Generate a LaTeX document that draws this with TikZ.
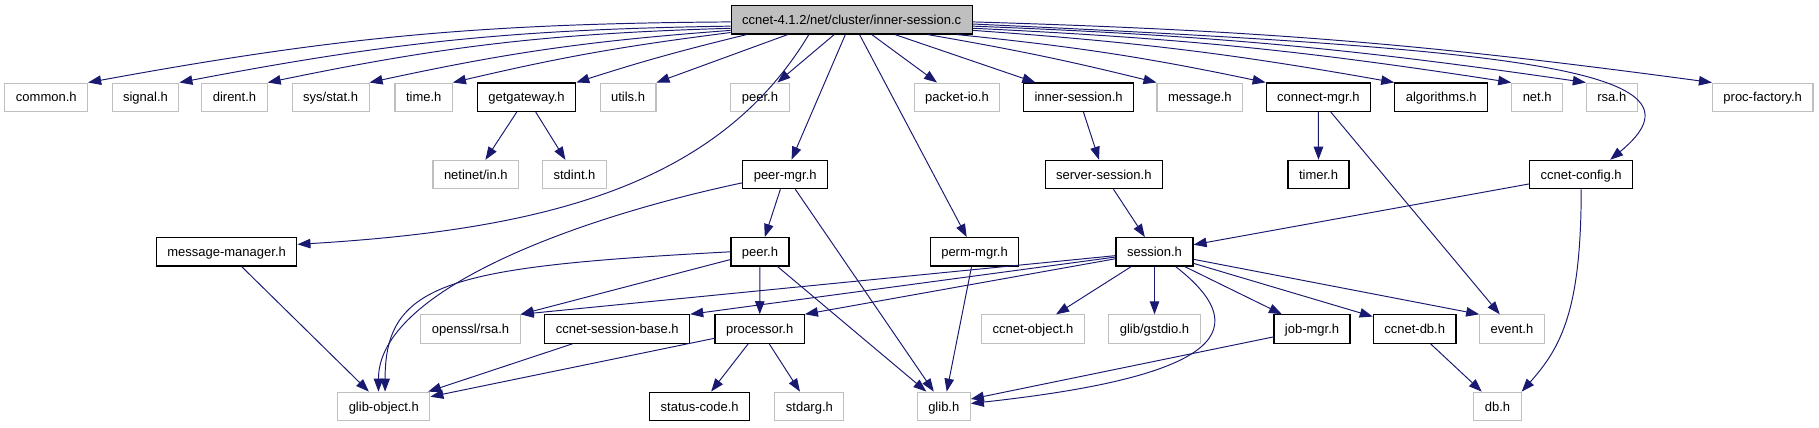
\documentclass[tikz,border=0pt]{standalone}
\usepackage{fontspec}
\setmainfont{Liberation Sans}
\usetikzlibrary{arrows.meta}
\definecolor{edgeblue}{HTML}{191970}
\definecolor{extgray}{HTML}{BFBFBF}

\begin{document}
\begin{tikzpicture}[
      x=0.02cm, y=0.02cm,
      box/.style={rectangle, draw=black, line width=0.7pt, inner xsep=0.22cm, inner ysep=0pt, minimum height=0.566cm, text height=0.75em, text depth=0.21em, font=\fontsize{7.4}{9}\selectfont},
      extbox/.style={box, draw=extgray, line width=0.6pt},
      srcbox/.style={box, fill=extgray},
      arrow/.style={-{Triangle[length=0.26cm, width=0.19cm]}, edgeblue, line width=0.55pt}
    ]
    \useasboundingbox (0,0) rectangle (1819,427);

    \node[srcbox] (main) at (851.7,407.2) {ccnet-4.1.2/net/cluster/inner-session.c};

    \node[extbox] (common) at (46.3,329.8) {common.h};
    \node[extbox] (signal) at (145.5,329.8) {signal.h};
    \node[extbox] (dirent) at (234.5,329.8) {dirent.h};
    \node[extbox] (sysstat) at (330.6,329.8) {sys/stat.h};
    \node[extbox] (time) at (423.7,329.8) {time.h};
    \node[box] (getgw) at (526.5,329.8) {getgateway.h};
    \node[extbox] (utils) at (628,329.8) {utils.h};
    \node[extbox] (peertop) at (760,329.8) {peer.h};
    \node[extbox] (packetio) at (957,329.8) {packet-io.h};
    \node[box] (innerh) at (1078.6,329.8) {inner-session.h};
    \node[extbox] (message) at (1199.8,329.8) {message.h};
    \node[box] (connmgr) at (1318.4,329.8) {connect-mgr.h};
    \node[box] (algo) at (1441.2,329.8) {algorithms.h};
    \node[extbox] (net) at (1537.2,329.8) {net.h};
    \node[extbox] (rsa) at (1611.8,329.8) {rsa.h};
    \node[extbox] (procfac) at (1762.7,329.8) {proc-factory.h};

    \node[extbox] (netinet) at (475.8,252.5) {netinet/in.h};
    \node[extbox] (stdint) at (574.5,252.5) {stdint.h};
    \node[box] (peermgr) at (785.2,252.5) {peer-mgr.h};
    \node[box] (serversess) at (1103.8,252.5) {server-session.h};
    \node[box] (timer) at (1318.5,252.5) {timer.h};
    \node[box] (config) at (1581.2,252.5) {ccnet-config.h};

    \node[box] (msgmgr) at (226.6,175.2) {message-manager.h};
    \node[box] (peer) at (760,175.2) {peer.h};
    \node[box] (permmgr) at (974.5,175.2) {perm-mgr.h};
    \node[box] (session) at (1154.5,175.2) {session.h};

    \node[extbox] (openssl) at (470.5,98) {openssl/rsa.h};
    \node[box] (sessbase) at (617.2,98) {ccnet-session-base.h};
    \node[box] (processor) at (759.7,98) {processor.h};
    \node[extbox] (ccnetobj) at (1033,98) {ccnet-object.h};
    \node[extbox] (gstdio) at (1154.5,98) {glib/gstdio.h};
    \node[box] (jobmgr) at (1312,98) {job-mgr.h};
    \node[box] (ccnetdb) at (1414.7,98) {ccnet-db.h};
    \node[extbox] (event) at (1512,98) {event.h};

    \node[extbox] (globj) at (383.8,20.7) {glib-object.h};
    \node[box] (status) at (699.7,20.7) {status-code.h};
    \node[extbox] (stdarg) at (809.4,20.7) {stdarg.h};
    \node[extbox] (glib) at (943.8,20.7) {glib.h};
    \node[extbox] (db) at (1497.5,20.7) {db.h};

    \draw[arrow] (main.181) to[bend right=5] (common.north east);
    \draw[arrow] (main.183) to[bend right=5] (signal.north east);
    \draw[arrow] (main.184) to[bend right=5] (dirent.north east);
    \draw[arrow] (main.185) to[bend right=4] (sysstat.north east);
    \draw[arrow] (main.186) to[bend right=3] (time.north east);
    \draw[arrow] (main.188) to[bend right=2] (getgw.north east);
    \draw[arrow] (main.193) -- (utils.north east);
    \draw[arrow] (main) -- (peertop);
    \draw[arrow] (main) -- (packetio);
    \draw[arrow] (main) -- (innerh);
    \draw[arrow] (main.349) to[bend left=2] (message.north west);
    \draw[arrow] (main.352) to[bend left=3] (connmgr.north west);
    \draw[arrow] (main.355) to[bend left=3] (algo.north west);
    \draw[arrow] (main.356) to[bend left=3] (net.north west);
    \draw[arrow] (main.357) to[bend left=3] (rsa.north west);
    \draw[arrow] (main.359) to[bend left=3] (procfac.north west);
    \draw[arrow] (main.358) .. controls +(550,-25) and +(110,90) .. (config.27);
    \draw[arrow] (main) -- (peermgr);
    \draw[arrow] (main) -- (permmgr);
    \draw[arrow] (main.199) .. controls +(-90,-150) and +(250,15) .. (msgmgr.6);

    \draw[arrow] (getgw) -- (netinet);
    \draw[arrow] (getgw) -- (stdint);
    \draw[arrow] (innerh) -- (serversess);
    \draw[arrow] (serversess) -- (session);
    \draw[arrow] (connmgr) -- (timer);
    \draw[arrow] (connmgr) -- (event);
    \draw[arrow] (config) -- (session);
    \draw[arrow] (config.south) .. controls +(0,-120) and +(40,45) .. (db.north east);

    \draw[arrow] (peermgr) -- (peer);
    \draw[arrow] (peermgr) -- (glib);
    \draw[arrow] (peermgr.191) .. controls +(-170,-36) and +(0,100) .. (globj.110);
    \draw[arrow] (msgmgr) -- (globj);
    \draw[arrow] (peer) -- (processor);
    \draw[arrow] (peer) -- (glib);
    \draw[arrow] (peer) -- (openssl.north east);
    \draw[arrow] (peer.west) .. controls +(-280,-15) and +(0,110) .. (globj.85);
    \draw[arrow] (permmgr) -- (glib);

    \draw[arrow] (session) -- (openssl.north east);
    \draw[arrow] (session) -- (sessbase.north east);
    \draw[arrow] (session) -- (processor.north east);
    \draw[arrow] (session) -- (ccnetobj);
    \draw[arrow] (session) -- (gstdio);
    \draw[arrow] (session) -- (jobmgr);
    \draw[arrow] (session) -- (ccnetdb);
    \draw[arrow] (session) -- (event.north west);
    \draw[arrow] (session.325) .. controls +(90,-70) and +(230,25) .. (glib.6);

    \draw[arrow] (sessbase) -- (globj);
    \draw[arrow] (processor) -- (globj);
    \draw[arrow] (processor) -- (status);
    \draw[arrow] (processor) -- (stdarg);
    \draw[arrow] (jobmgr) -- (glib.15);
    \draw[arrow] (ccnetdb) -- (db);
  \end{tikzpicture}
\end{document}
